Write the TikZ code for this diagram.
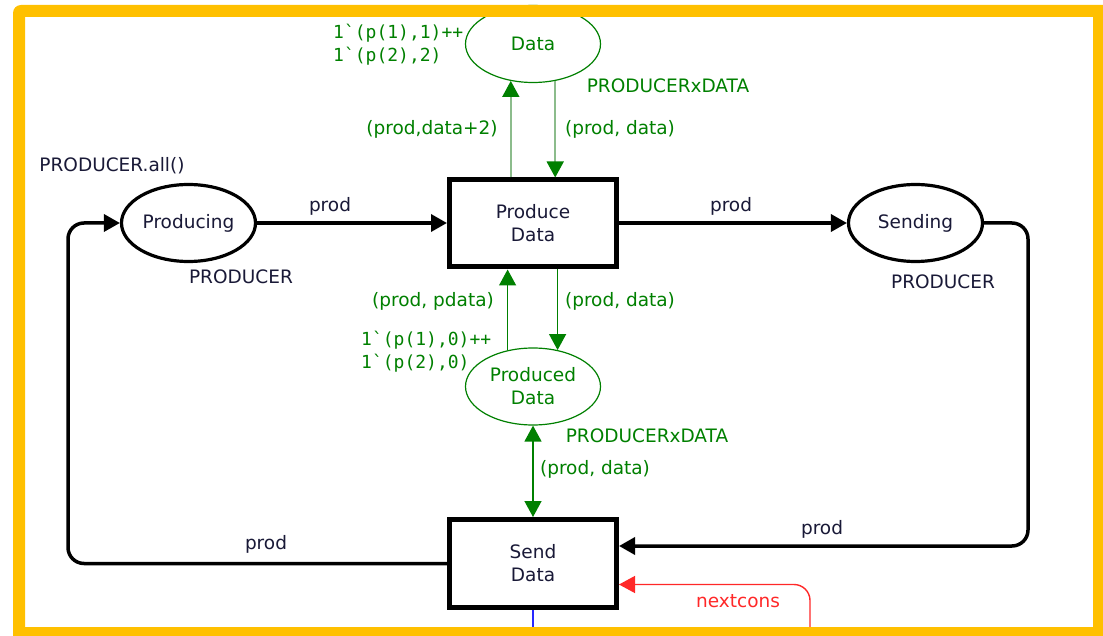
\documentclass[tikz,border=0pt]{standalone}
\usepackage{fontspec}
\setmainfont{DejaVu Sans}
\newfontfamily\monofam{DejaVu Sans Mono}
\usetikzlibrary{shapes.geometric,arrows.meta,calc}
\definecolor{frameY}{RGB}{255,192,0}
\definecolor{txt}{RGB}{25,25,55}
\definecolor{cgreen}{RGB}{0,128,0}
\definecolor{lgreen}{RGB}{140,188,140}
\definecolor{cred}{RGB}{255,40,40}
\definecolor{cblue}{RGB}{40,40,255}
\begin{document}
\begin{tikzpicture}[x=1pt,y=-1pt,
  font=\fontsize{18.5}{23}\selectfont,
  tip/.style={},
  place/.style={ellipse,draw=black,line width=3.2pt,minimum width=134pt,minimum height=77pt,inner sep=0pt,text=txt},
  gplace/.style={ellipse,draw=cgreen,line width=1.2pt,minimum width=135pt,minimum height=77pt,inner sep=0pt,text=cgreen,align=center},
  trans/.style={rectangle,draw=black,line width=5pt,minimum width=167pt,minimum height=87pt,inner sep=0pt,text=txt,align=center},
  arcb/.style={draw=black,line width=3.5pt,-{Triangle[length=16pt,width=17pt]}},
  arcg/.style={draw=cgreen,line width=1.4pt,-{Triangle[length=16pt,width=17pt]}},
  arcgl/.style={draw=lgreen,line width=1.6pt,-{Triangle[length=16pt,width=17pt,color=cgreen,fill=cgreen]}},
  arcr/.style={draw=cred,line width=1.4pt,-{Triangle[length=16pt,width=17pt]}},
  lab/.style={text=txt,inner sep=0pt,text height=13pt,text depth=4pt},
  glab/.style={text=cgreen,inner sep=0pt,text height=13pt,text depth=4pt},
  rlab/.style={text=cred,inner sep=0pt,text height=13pt,text depth=4pt},
  mlab/.style={text=cgreen,inner sep=0pt,align=left,anchor=west,font=\monofam\fontsize{18}{23}\selectfont}
]
\fill[white] (0,0) rectangle (1103,636);
\useasboundingbox (0,0) rectangle (1103,636);

% places and transitions
\node[gplace] (data) at (533,44) {Data};
\node[trans] (pd) at (533,223.5) {Produce\\Data};
\node[place] (producing) at (188.5,223) {Producing};
\node[place] (sending) at (915.5,223) {Sending};
\node[gplace] (pdd) at (533,386.5) {Produced\\Data};
\node[trans,minimum height=88pt] (sd) at (533,563.5) {Send\\Data};

% black arcs
\draw[arcb] (producing.east) -- (producing.east -| pd.west);
\draw[arcb] (sending.west -| pd.east) -- (sending.west);
\coordinate (rc) at (1028,546);
\draw[arcb,rounded corners=16pt] (sending.east) -| (rc) -- (rc -| sd.east);
\coordinate (lc) at (68,563.5);
\draw[arcb,rounded corners=16pt] (sd.west) -- (lc) |- (producing.west);

% green arcs
\draw[arcgl] (data.-121 |- pd.north) -- (data.-121);
\draw[arcgl] (data.-59) -- (data.-59 |- pd.north);
\draw[arcg] (pdd.125) -- (pdd.125 |- pd.south);
\draw[arcg] (pdd.56 |- pd.south) -- (pdd.56);
\draw[arcg,{Triangle[length=16pt,width=17pt]}-{Triangle[length=16pt,width=17pt]}] (pdd.south) -- (sd.north);

% red and blue arcs
\coordinate (nc) at (810,650);
\draw[arcr,rounded corners=16pt] (nc) |- ($(sd.east)+(0,21)$);
\coordinate (bc) at (533,650);
\draw[cblue,line width=1.3pt] (sd.south) -- (bc);

% labels
\node[lab] (lall) at (112,167) {PRODUCER.all()};
\node[lab] (lt1) at (241,279) {PRODUCER};
\node[lab] (lt2) at (943,284) {PRODUCER};
\node[lab] (a1) at (330,207) {prod};
\node[lab] (a2) at (731,207) {prod};
\node[lab] (a3) at (266,545) {prod};
\node[lab] (a4) at (822,530) {prod};
\node[mlab] (m1) at (333,44.5) {1\textasciigrave(p(1),1)++\\1\textasciigrave(p(2),2)};
\node[mlab] (m2) at (361,351.5) {1\textasciigrave(p(1),0)++\\1\textasciigrave(p(2),0)};
\node[glab] (t1) at (668,88) {PRODUCERxDATA};
\node[glab] (t2) at (647,438) {PRODUCERxDATA};
\node[glab] (g1) at (432,130) {(prod,data+2)};
\node[glab] (g2) at (620,130) {(prod, data)};
\node[glab] (g3) at (433,302) {(prod, pdata)};
\node[glab] (g4) at (620,302) {(prod, data)};
\node[glab] (g5) at (595,470) {(prod, data)};
\node[rlab] (r1) at (738,603) {nextcons};

% frame
\fill[frameY,even odd rule] [rounded corners=8pt] (13,5) rectangle (1116,649) [sharp corners] (25,17) rectangle (1093,627);
\end{tikzpicture}
\end{document}
